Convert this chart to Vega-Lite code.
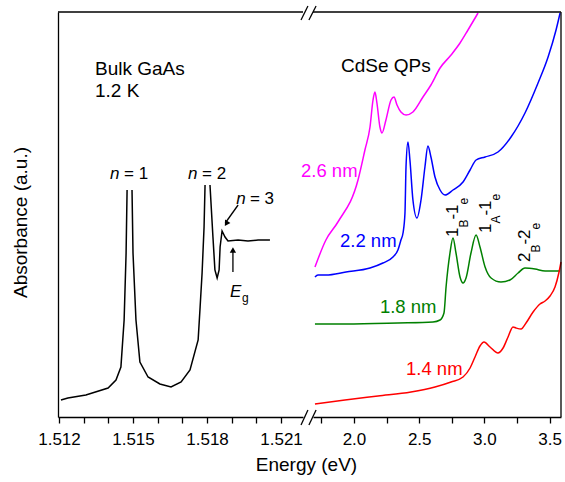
{
"$schema":"https://vega.github.io/schema/vega-lite/v6.json",
"padding":{"left":11,"top":5,"right":2,"bottom":5},
"bounds":"flush",
"config":{"view":{"stroke":null},"font":"Liberation Sans","axis":{"domainColor":"#000","tickColor":"#000","labelColor":"#000","titleColor":"#000","grid":false,"labelFontSize":17,"titleFontSize":19,"titleFontWeight":"normal","domainWidth":1.3,"tickWidth":1.3,"tickSize":6,"labelPadding":8,"labelFlush":false,"labelOverlap":false}},
"spacing":10,
"datasets":{
"gaas":[
{"seg":1,"E":1.51208,"A":17},{"seg":1,"E":1.51236,"A":19},{"seg":1,"E":1.51309,"A":22},{"seg":1,"E":1.51399,"A":29},{"seg":1,"E":1.51431,"A":37},{"seg":1,"E":1.51451,"A":50},{"seg":1,"E":1.51464,"A":97},{"seg":1,"E":1.51472,"A":164},{"seg":1,"E":1.51476,"A":227},
{"seg":2,"E":1.51496,"A":227},{"seg":2,"E":1.515,"A":164},{"seg":2,"E":1.51512,"A":97},{"seg":2,"E":1.51528,"A":55},{"seg":2,"E":1.51561,"A":40},{"seg":2,"E":1.51609,"A":33},{"seg":2,"E":1.51654,"A":30},{"seg":2,"E":1.51695,"A":35},{"seg":2,"E":1.51731,"A":47},{"seg":2,"E":1.51764,"A":77},{"seg":2,"E":1.51772,"A":110},{"seg":2,"E":1.5178,"A":144},{"seg":2,"E":1.51788,"A":190},{"seg":2,"E":1.51792,"A":232},
{"seg":3,"E":1.51812,"A":232},{"seg":3,"E":1.51824,"A":180},{"seg":3,"E":1.51832,"A":147},{"seg":3,"E":1.51841,"A":139},{"seg":3,"E":1.51849,"A":147},{"seg":3,"E":1.51853,"A":170},{"seg":3,"E":1.51861,"A":186},{"seg":3,"E":1.51865,"A":184},{"seg":3,"E":1.51873,"A":180},{"seg":3,"E":1.51885,"A":176},{"seg":3,"E":1.51926,"A":177},{"seg":3,"E":1.51966,"A":176},{"seg":3,"E":1.52007,"A":177},{"seg":3,"E":1.52055,"A":177}
],
"cdse":[
{"series":"2.6 nm","E":1.701,"A":150},{"series":"2.6 nm","E":1.785,"A":177},{"series":"2.6 nm","E":1.877,"A":195},{"series":"2.6 nm","E":2.031,"A":237},{"series":"2.6 nm","E":2.084,"A":267},{"series":"2.6 nm","E":2.123,"A":290},{"series":"2.6 nm","E":2.146,"A":317},{"series":"2.6 nm","E":2.161,"A":325},{"series":"2.6 nm","E":2.176,"A":314},{"series":"2.6 nm","E":2.199,"A":290},{"series":"2.6 nm","E":2.215,"A":284},{"series":"2.6 nm","E":2.245,"A":297},{"series":"2.6 nm","E":2.284,"A":317},{"series":"2.6 nm","E":2.307,"A":320},{"series":"2.6 nm","E":2.33,"A":312},{"series":"2.6 nm","E":2.36,"A":305},{"series":"2.6 nm","E":2.399,"A":302},{"series":"2.6 nm","E":2.452,"A":305},{"series":"2.6 nm","E":2.529,"A":320},{"series":"2.6 nm","E":2.59,"A":332},{"series":"2.6 nm","E":2.66,"A":349},{"series":"2.6 nm","E":2.744,"A":362},{"series":"2.6 nm","E":2.813,"A":374},{"series":"2.6 nm","E":2.874,"A":387},{"series":"2.6 nm","E":2.951,"A":404},
{"series":"2.2 nm","E":1.701,"A":140},{"series":"2.2 nm","E":1.724,"A":142},{"series":"2.2 nm","E":1.785,"A":142},{"series":"2.2 nm","E":1.939,"A":145},{"series":"2.2 nm","E":2.123,"A":149},{"series":"2.2 nm","E":2.222,"A":154},{"series":"2.2 nm","E":2.299,"A":160},{"series":"2.2 nm","E":2.337,"A":167},{"series":"2.2 nm","E":2.36,"A":177},{"series":"2.2 nm","E":2.376,"A":184},{"series":"2.2 nm","E":2.391,"A":204},{"series":"2.2 nm","E":2.399,"A":250},{"series":"2.2 nm","E":2.414,"A":275},{"series":"2.2 nm","E":2.429,"A":257},{"series":"2.2 nm","E":2.452,"A":217},{"series":"2.2 nm","E":2.483,"A":199},{"series":"2.2 nm","E":2.514,"A":217},{"series":"2.2 nm","E":2.544,"A":250},{"series":"2.2 nm","E":2.567,"A":271},{"series":"2.2 nm","E":2.59,"A":260},{"series":"2.2 nm","E":2.621,"A":240},{"series":"2.2 nm","E":2.66,"A":227},{"series":"2.2 nm","E":2.698,"A":222},{"series":"2.2 nm","E":2.759,"A":227},{"series":"2.2 nm","E":2.836,"A":235},{"series":"2.2 nm","E":2.89,"A":247},{"series":"2.2 nm","E":2.936,"A":257},{"series":"2.2 nm","E":3.005,"A":260},{"series":"2.2 nm","E":3.104,"A":265},{"series":"2.2 nm","E":3.204,"A":280},{"series":"2.2 nm","E":3.311,"A":304},{"series":"2.2 nm","E":3.411,"A":334},{"series":"2.2 nm","E":3.488,"A":360},{"series":"2.2 nm","E":3.549,"A":387},{"series":"2.2 nm","E":3.58,"A":404},
{"series":"1.8 nm","E":1.701,"A":93},{"series":"1.8 nm","E":1.939,"A":93},{"series":"1.8 nm","E":2.337,"A":94},{"series":"1.8 nm","E":2.606,"A":95},{"series":"1.8 nm","E":2.66,"A":97},{"series":"1.8 nm","E":2.69,"A":104},{"series":"1.8 nm","E":2.706,"A":130},{"series":"1.8 nm","E":2.736,"A":164},{"series":"1.8 nm","E":2.759,"A":179},{"series":"1.8 nm","E":2.782,"A":164},{"series":"1.8 nm","E":2.813,"A":140},{"series":"1.8 nm","E":2.836,"A":134},{"series":"1.8 nm","E":2.859,"A":139},{"series":"1.8 nm","E":2.897,"A":164},{"series":"1.8 nm","E":2.936,"A":182},{"series":"1.8 nm","E":2.966,"A":170},{"series":"1.8 nm","E":3.005,"A":150},{"series":"1.8 nm","E":3.051,"A":139},{"series":"1.8 nm","E":3.127,"A":135},{"series":"1.8 nm","E":3.196,"A":137},{"series":"1.8 nm","E":3.258,"A":144},{"series":"1.8 nm","E":3.311,"A":149},{"series":"1.8 nm","E":3.388,"A":148},{"series":"1.8 nm","E":3.465,"A":146},{"series":"1.8 nm","E":3.58,"A":146},
{"series":"1.4 nm","E":1.701,"A":13},{"series":"1.4 nm","E":1.931,"A":17},{"series":"1.4 nm","E":2.184,"A":21},{"series":"1.4 nm","E":2.437,"A":25},{"series":"1.4 nm","E":2.621,"A":30},{"series":"1.4 nm","E":2.744,"A":35},{"series":"1.4 nm","E":2.836,"A":40},{"series":"1.4 nm","E":2.89,"A":49},{"series":"1.4 nm","E":2.928,"A":60},{"series":"1.4 nm","E":2.966,"A":71},{"series":"1.4 nm","E":2.997,"A":75},{"series":"1.4 nm","E":3.043,"A":70},{"series":"1.4 nm","E":3.104,"A":64},{"series":"1.4 nm","E":3.143,"A":69},{"series":"1.4 nm","E":3.181,"A":80},{"series":"1.4 nm","E":3.219,"A":90},{"series":"1.4 nm","E":3.242,"A":89},{"series":"1.4 nm","E":3.281,"A":88},{"series":"1.4 nm","E":3.319,"A":94},{"series":"1.4 nm","E":3.373,"A":105},{"series":"1.4 nm","E":3.426,"A":113},{"series":"1.4 nm","E":3.465,"A":116},{"series":"1.4 nm","E":3.503,"A":121},{"series":"1.4 nm","E":3.541,"A":130},{"series":"1.4 nm","E":3.572,"A":145},{"series":"1.4 nm","E":3.587,"A":155}
],
"frameL":[{"E":1.51196,"E2":1.52189,"A":405}],
"frameR":[{"E":1.686,"E2":3.587,"A":405}],
"frameR2":[{"E":3.587,"A":0,"A2":405}],
"breaks":[{"E":1.52181,"A":-8,"E2":1.52209,"A2":7},{"E":1.52213,"A":-8,"E2":1.52242,"A2":7},{"E":1.52181,"A":397,"E2":1.52209,"A2":411},{"E":1.52213,"A":397,"E2":1.52242,"A2":411}],
"arrows":[{"E":1.51926,"A":212,"E2":1.51874,"A2":194},{"E":1.51905,"A":145,"E2":1.51905,"A2":166}],
"lblBig":[{"E":1.51346,"A":342,"t":"Bulk GaAs"},{"E":1.51346,"A":320,"t":"1.2 K"}],
"lblEq":[{"E":1.51464,"A":238,"t":"= 1"},{"E":1.5178,"A":238,"t":"= 2"},{"E":1.51974,"A":213,"t":"= 3"}],
"lblIt":[{"E":1.51407,"A":238,"t":"n"},{"E":1.51723,"A":238,"t":"n"},{"E":1.51918,"A":213,"t":"n"},{"E":1.51893,"A":120,"t":"E"}],
"lblSubL":[{"E":1.51942,"A":115,"t":"g"}],
"lblCd":[{"E":1.9,"A":345,"t":"CdSe QPs"}],
"lblSeries":[{"series":"2.6 nm","E":1.594,"A":240,"t":"2.6 nm"},{"series":"2.2 nm","E":1.893,"A":170,"t":"2.2 nm"},{"series":"1.8 nm","E":2.199,"A":104,"t":"1.8 nm"},{"series":"1.4 nm","E":2.399,"A":42,"t":"1.4 nm"}],
"rotMain":[{"E":2.798,"A":180,"t":"1"},{"E":2.798,"A":197.45,"t":"-1"},{"E":3.051,"A":184,"t":"1"},{"E":3.051,"A":201.45,"t":"-1"},{"E":3.35,"A":155,"t":"2"},{"E":3.35,"A":172.45,"t":"-2"}],
"rotSub":[{"E":2.874,"A":189.45,"t":"B"},{"E":2.874,"A":212.55,"t":"e"},{"E":3.12,"A":193.45,"t":"A"},{"E":3.12,"A":216.55,"t":"e"},{"E":3.426,"A":164.45,"t":"B"},{"E":3.426,"A":187.55,"t":"e"}]
},
"hconcat":[
{"width":245,"height":405,
"encoding":{
"x":{"field":"E","type":"quantitative","scale":{"domain":[1.51196,1.52189],"nice":false,"zero":false},"axis":{"title":"Energy (eV)","titleX":248,"titleY":53,"titleAlign":"center","titleBaseline":"alphabetic","values":[1.512,1.513,1.514,1.515,1.516,1.517,1.518,1.519,1.52,1.521],"labelExpr":"round(datum.value*1000)%3==0 ? format(datum.value,'.3f') : ''"}},
"y":{"field":"A","type":"quantitative","scale":{"domain":[0,405],"nice":false,"zero":false},"axis":{"title":"Absorbance (a.u.)","ticks":false,"labels":false,"titlePadding":28,"titleY":210}}},
"layer":[
{"data":{"name":"gaas"},"mark":{"type":"line","color":"#000","strokeWidth":1.5},"encoding":{"detail":{"field":"seg"}}},
{"data":{"name":"frameL"},"mark":{"type":"rule","color":"#000","strokeWidth":1.3},"encoding":{"x2":{"field":"E2"}}},
{"data":{"name":"breaks"},"mark":{"type":"rule","color":"#000","strokeWidth":1.3},"encoding":{"x2":{"field":"E2"},"y2":{"field":"A2"}}},
{"data":{"name":"arrows"},"mark":{"type":"rule","color":"#000","strokeWidth":1.3},"encoding":{"x2":{"field":"E2"},"y2":{"field":"A2"}}},
{"data":{"values":[{"E":1.51878,"A":193.4}]},"mark":{"type":"point","shape":"triangle-up","filled":true,"color":"#000","size":40,"angle":212,"opacity":1},"encoding":{}},
{"data":{"values":[{"E":1.51905,"A":167}]},"mark":{"type":"point","shape":"triangle-up","filled":true,"color":"#000","size":40,"angle":0,"opacity":1},"encoding":{}},
{"data":{"name":"lblBig"},"mark":{"type":"text","align":"left","baseline":"alphabetic","fontSize":19,"color":"#000"},"encoding":{"text":{"field":"t"}}},
{"data":{"name":"lblEq"},"mark":{"type":"text","align":"left","baseline":"alphabetic","fontSize":17,"color":"#000"},"encoding":{"text":{"field":"t"}}},
{"data":{"name":"lblIt"},"mark":{"type":"text","align":"left","baseline":"alphabetic","fontSize":17,"fontStyle":"italic","color":"#000"},"encoding":{"text":{"field":"t"}}},
{"data":{"name":"lblSubL"},"mark":{"type":"text","align":"left","baseline":"alphabetic","fontSize":12,"color":"#000"},"encoding":{"text":{"field":"t"}}}
]},
{"width":248,"height":405,
"encoding":{
"x":{"field":"E","type":"quantitative","scale":{"domain":[1.686,3.587],"nice":false,"zero":false},"axis":{"title":null,"values":[1.75,2,2.25,2.5,2.75,3,3.25,3.5],"labelExpr":"round(datum.value*100)%50==0 ? format(datum.value,'.1f') : ''"}},
"y":{"field":"A","type":"quantitative","scale":{"domain":[0,405],"nice":false,"zero":false},"axis":null}},
"layer":[
{"data":{"name":"cdse"},"mark":{"type":"line","strokeWidth":1.5,"interpolate":"monotone"},"encoding":{"color":{"field":"series","type":"nominal","scale":{"domain":["2.6 nm","2.2 nm","1.8 nm","1.4 nm"],"range":["#ff00ff","#0000ff","#008000","#ff0000"]},"legend":null}}},
{"data":{"name":"frameR"},"mark":{"type":"rule","color":"#000","strokeWidth":1.3},"encoding":{"x2":{"field":"E2"}}},
{"data":{"name":"frameR2"},"mark":{"type":"rule","color":"#000","strokeWidth":1.3},"encoding":{"y2":{"field":"A2"}}},
{"data":{"name":"lblCd"},"mark":{"type":"text","align":"left","baseline":"alphabetic","fontSize":19,"color":"#000"},"encoding":{"text":{"field":"t"}}},
{"data":{"name":"lblSeries"},"mark":{"type":"text","align":"left","baseline":"alphabetic","fontSize":18.5},"encoding":{"text":{"field":"t"},"color":{"field":"series","type":"nominal","legend":null}}},
{"data":{"name":"rotMain"},"mark":{"type":"text","align":"left","baseline":"alphabetic","fontSize":17,"angle":270,"color":"#000"},"encoding":{"text":{"field":"t"}}},
{"data":{"name":"rotSub"},"mark":{"type":"text","align":"left","baseline":"alphabetic","fontSize":12,"angle":270,"color":"#000"},"encoding":{"text":{"field":"t"}}}
]}
]
}
